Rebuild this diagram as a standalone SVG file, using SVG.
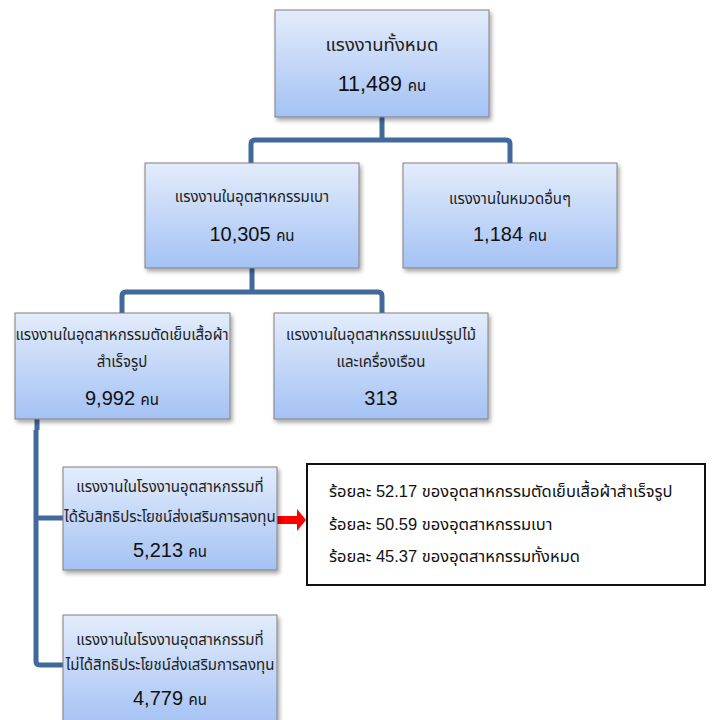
<svg xmlns="http://www.w3.org/2000/svg" width="712" height="720" viewBox="0 0 712 720">
<defs>
<linearGradient id="g" x1="0" y1="0" x2="0" y2="1">
<stop offset="0" stop-color="#e3ecfb"/>
<stop offset="1" stop-color="#a4c2f4"/>
</linearGradient>
<filter id="sh" x="-10%" y="-10%" width="125%" height="130%">
<feDropShadow dx="2" dy="3" stdDeviation="2" flood-color="#000" flood-opacity="0.35"/>
</filter>
</defs>
<style>
.box{fill:url(#g);stroke:#808080;stroke-width:1;filter:url(#sh)}
.t{font-family:"Noto Sans Thai","Tahoma","Noto Sans","DejaVu Sans",sans-serif;font-size:15px;fill:#222;text-anchor:middle}
.big{font-size:18.5px}
.n{font-family:"Liberation Sans","Noto Sans Thai",sans-serif;font-size:20px;fill:#111;text-anchor:middle}
.nb{font-size:21.5px}
.k{font-size:15px}
.c{fill:none;stroke:#41699c;stroke-width:5;stroke-linejoin:round}
.p{font-family:"Liberation Sans","Noto Sans Thai","Tahoma",sans-serif;font-size:16.5px;fill:#111}
</style>
<rect width="712" height="720" fill="#fff"/>
<g id="connectors">
<path class="c" d="M382 117 V140 M251 163 V144 Q251 140 255 140 H506 Q510 140 510 144 V163"/>
<path class="c" d="M252 268 V292 M122 313 V296 Q122 292 126 292 H378 Q382 292 382 296 V313"/>
<path class="c" d="M37 419 V430 M36 430 V661 Q36 665 40 665 H63 M36 518 H63"/>
<polygon fill="#ff0000" points="277,516 297,516 297,509 306,520 297,531 297,524 277,524"/>
</g>
<g id="n1">
<rect class="box" x="275" y="10" width="214" height="107"/>
<text class="t big" x="382" y="51">แรงงานทั้งหมด</text>
<text class="n nb" x="382" y="91">11,489 <tspan class="k">คน</tspan></text>
</g>
<g id="n2">
<rect class="box" x="145" y="163" width="214" height="105"/>
<text class="t" x="252" y="202">แรงงานในอุตสาหกรรมเบา</text>
<text class="n" x="252" y="241">10,305 <tspan class="k">คน</tspan></text>
</g>
<g id="n3">
<rect class="box" x="403" y="163" width="214" height="105"/>
<text class="t" x="510" y="204">แรงงานในหมวดอื่นๆ</text>
<text class="n" x="510" y="241">1,184 <tspan class="k">คน</tspan></text>
</g>
<g id="n4">
<rect class="box" x="15" y="313" width="215" height="106"/>
<text class="t" x="122" y="340">แรงงานในอุตสาหกรรมตัดเย็บเสื้อผ้า</text>
<text class="t" x="122" y="367">สำเร็จรูป</text>
<text class="n" x="122" y="405">9,992 <tspan class="k">คน</tspan></text>
</g>
<g id="n5">
<rect class="box" x="274" y="313" width="214" height="106"/>
<text class="t" x="381" y="340">แรงงานในอุตสาหกรรมแปรรูปไม้</text>
<text class="t" x="381" y="367">และเครื่องเรือน</text>
<text class="n" x="381" y="405">313</text>
</g>
<g id="n6">
<rect class="box" x="63" y="467" width="214" height="103"/>
<text class="t" x="170" y="492">แรงงานในโรงงานอุตสาหกรรมที่</text>
<text class="t" x="170" y="522">ได้รับสิทธิประโยชน์ส่งเสริมการลงทุน</text>
<text class="n" x="170" y="557">5,213 <tspan class="k">คน</tspan></text>
</g>
<g id="n7">
<rect x="307" y="464" width="398" height="121" fill="#fff" stroke="#111" stroke-width="2"/>
<text class="p" x="329" y="497">ร้อยละ 52.17 ของอุตสาหกรรมตัดเย็บเสื้อผ้าสำเร็จรูป</text>
<text class="p" x="329" y="530">ร้อยละ 50.59 ของอุตสาหกรรมเบา</text>
<text class="p" x="329" y="562">ร้อยละ 45.37 ของอุตสาหกรรมทั้งหมด</text>
</g>
<g id="n8">
<rect class="box" x="63" y="615" width="214" height="110"/>
<text class="t" x="170" y="645">แรงงานในโรงงานอุตสาหกรรมที่</text>
<text class="t" x="170" y="670">ไม่ได้สิทธิประโยชน์ส่งเสริมการลงทุน</text>
<text class="n" x="170" y="705">4,779 <tspan class="k">คน</tspan></text>
</g>
</svg>
